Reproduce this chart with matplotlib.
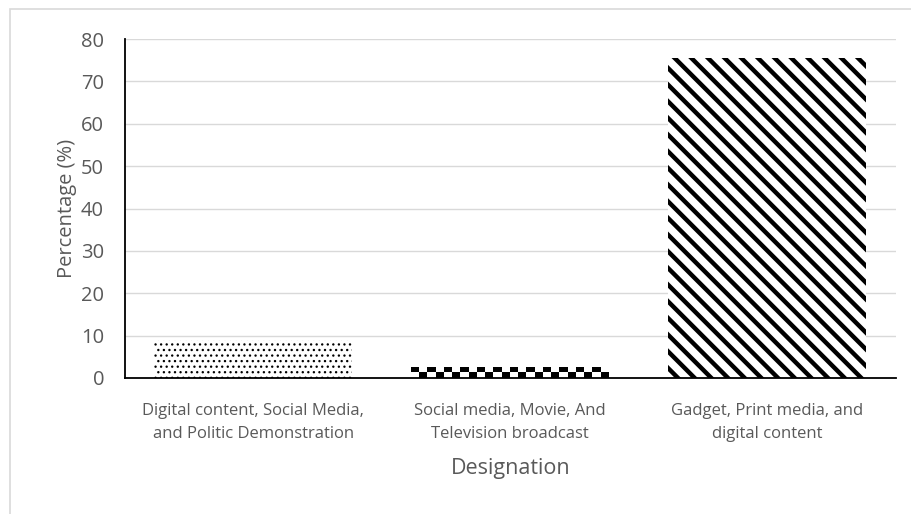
import numpy as np
import matplotlib.pyplot as plt
from matplotlib.patches import Rectangle

categories = ['Digital content, Social Media,\nand Politic Demonstration',
              'Social media, Movie, And\nTelevision broadcast',
              'Gadget, Print media, and\ndigital content']
values = [9.0, 2.4, 75.5]
hatches = ['...', None, '\\\\']

plt.rcParams['font.family'] = ['Open Sans', 'DejaVu Sans']
grey = '#595959'

fig = plt.figure(figsize=(9.12, 5.14), dpi=100)
ax = fig.add_axes([0.137, 0.2646, 0.845, 0.6595])

x = np.arange(len(categories))
bars = ax.bar(x, values, width=0.77, color='white', edgecolor='black',
              linewidth=0, zorder=2)
for b, h in zip(bars, hatches):
    if h:
        b.set_hatch(h)
        if h.startswith('\\'):
            b.set_hatch_linewidth(3.2)
        else:
            b.set_hatch_linewidth(0.9)

# checkerboard fill for the middle bar
b = bars[1]
x0, w, h = b.get_x(), b.get_width(), b.get_height()
checker = np.indices((2, 24)).sum(axis=0) % 2
ax.imshow(checker, cmap='gray', extent=(x0, x0 + w, 0, h), aspect='auto',
          interpolation='nearest', zorder=2, clip_path=b, clip_on=True)

ax.set_xlim(-0.5, 2.5)
ax.set_ylim(0, 80)
ax.set_yticks(range(0, 81, 10))
ax.yaxis.grid(True, color='#d9d9d9', linewidth=1)
ax.set_axisbelow(True)
for s in ['top', 'right']:
    ax.spines[s].set_visible(False)
for s in ['left', 'bottom']:
    ax.spines[s].set_color('black')
    ax.spines[s].set_linewidth(1.3)
ax.tick_params(axis='both', length=0, colors=grey)
ax.set_xticks(x)
ax.set_xticklabels(categories, fontsize=12, color=grey, linespacing=1.55)
ax.tick_params(axis='x', pad=18)
ax.tick_params(axis='y', labelsize=14.5, pad=15)
ax.set_ylabel('Percentage (%)', fontsize=14.5, color=grey, labelpad=3)
ax.set_xlabel('Designation', fontsize=15.5, color=grey, labelpad=12)

fig.patches.append(Rectangle((10 / 912, -0.1), 1.2, (514 - 9) / 514 + 0.1,
                             transform=fig.transFigure, fill=False,
                             edgecolor='#d9d9d9', linewidth=1.2))

fig.savefig('out.png', dpi=100)
